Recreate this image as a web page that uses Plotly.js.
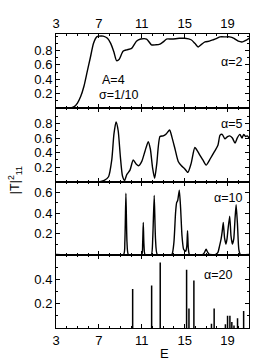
<!DOCTYPE html>
<html>
<head>
<meta charset="utf-8">
<script src="https://cdn.plot.ly/plotly-3.0.1.min.js"></script>
<style>html,body{margin:0;padding:0;background:#fff;}#chart{width:258px;height:364px;}</style>
</head>
<body>
<div id="chart"></div>
<script>
// alpha = 2
const xA2 = [3, 4.3, 4.7, 5.0, 5.3, 5.6, 5.9, 6.2, 6.5, 6.8, 7.0, 7.4, 7.8, 8.1, 8.4, 8.65, 8.9, 9.25, 9.6, 10.05, 10.5, 10.9, 11.45, 11.9, 12.3, 12.7, 13.0, 13.3, 13.8, 14.5, 15.0, 15.6, 15.95, 16.26, 16.6, 16.9, 17.3, 17.67, 18.0, 18.3, 18.8, 19.2, 19.6, 20.0, 20.4, 20.7, 21];
const yA2 = [0, 0, 0.02, 0.07, 0.16, 0.3, 0.5, 0.7, 0.9, 0.99, 1.0, 1.0, 0.97, 0.9, 0.78, 0.66, 0.68, 0.79, 0.81, 0.83, 0.93, 0.96, 0.96, 0.88, 0.88, 0.89, 0.92, 0.96, 0.96, 0.97, 0.97, 0.95, 0.9, 0.85, 0.89, 0.92, 0.93, 0.95, 0.97, 0.99, 0.99, 0.99, 0.97, 0.93, 0.92, 0.94, 0.97];
// alpha = 5
const xA5 = [3, 7.0, 7.5, 7.9, 8.2, 8.4, 8.6, 8.8, 9.0, 9.2, 9.4, 9.6, 9.9, 10.2, 10.5, 10.7, 11.0, 11.3, 11.6, 11.8, 12.0, 12.2, 12.4, 12.7, 13.0, 13.3, 13.6, 13.8, 14.1, 14.4, 14.7, 15.0, 15.3, 15.6, 15.95, 16.2, 16.4, 16.7, 17.0, 17.4, 17.8, 18.1, 18.3, 18.5, 18.75, 19.0, 19.2, 19.45, 19.7, 19.9, 20.15, 20.35, 20.5, 20.7, 20.85, 21];
const yA5 = [0, 0, 0.02, 0.07, 0.3, 0.65, 0.82, 0.7, 0.35, 0.08, 0.02, 0.1, 0.16, 0.3, 0.24, 0.22, 0.28, 0.42, 0.55, 0.45, 0.2, 0.05, 0.25, 0.62, 0.63, 0.66, 0.71, 0.62, 0.45, 0.28, 0.22, 0.18, 0.13, 0.25, 0.47, 0.42, 0.37, 0.3, 0.23, 0.32, 0.42, 0.5, 0.64, 0.65, 0.59, 0.62, 0.63, 0.6, 0.53, 0.6, 0.65, 0.6, 0.65, 0.62, 0.63, 0.6];
// alpha = 10
const xA10 = [3, 9.3, 9.42, 9.52, 9.62, 9.75, 11.0, 11.08, 11.14, 11.2, 11.3, 11.9, 12.02, 12.16, 12.28, 12.45, 13.8, 14.0, 14.15, 14.25, 14.35, 14.5, 14.62, 14.75, 14.9, 15.1, 15.2, 15.27, 15.34, 15.45, 16.7, 16.85, 17.0, 17.15, 17.3, 17.9, 18.1, 18.25, 18.4, 18.5, 18.6, 18.72, 18.85, 18.95, 19.05, 19.2, 19.32, 19.45, 19.58, 19.7, 19.8, 19.92, 20.05, 20.2, 21];
const yA10 = [0, 0, 0.12, 0.59, 0.12, 0, 0, 0.1, 0.31, 0.1, 0, 0, 0.15, 0.57, 0.15, 0, 0, 0.12, 0.4, 0.5, 0.52, 0.62, 0.45, 0.18, 0.05, 0.03, 0.08, 0.23, 0.06, 0, 0, 0.02, 0.05, 0.02, 0, 0, 0.02, 0.08, 0.15, 0.22, 0.31, 0.16, 0.1, 0.15, 0.25, 0.37, 0.18, 0.1, 0.15, 0.35, 0.48, 0.3, 0.05, 0, 0];
// alpha = 20 (spectral lines)
const xA20 = [10.15, 11.92, 12.72, 15.18, 15.4, 15.86, 17.5, 17.75, 18.8, 19.0, 19.22, 19.4, 19.6, 19.93, 20.5];
const yA20 = [0.32, 0.35, 0.54, 0.48, 0.16, 0.39, 0.035, 0.16, 0.03, 0.1, 0.1, 0.05, 0.02, 0.08, 0.14];

const xTicks = [3, 7, 11, 15, 19];
const yTicks1 = [0.2, 0.4, 0.6, 0.8];
const yTicks3 = [0.2, 0.4, 0.6];
const yTicks4 = [0.2, 0.4];

const sx = [], sy = [];
xA20.forEach((v, i) => { sx.push(v, v, null); sy.push(0, yA20[i], null); });

const ln = {color: '#000', width: 1.4};
const traces = [
  {x: xA2, y: yA2, xaxis: 'x', yaxis: 'y', mode: 'lines', line: Object.assign({shape: 'spline', smoothing: 0.6}, ln)},
  {x: xA5, y: yA5, xaxis: 'x2', yaxis: 'y2', mode: 'lines', line: Object.assign({shape: 'spline', smoothing: 0.6}, ln)},
  {x: xA10, y: yA10, xaxis: 'x3', yaxis: 'y3', mode: 'lines', line: Object.assign({shape: 'spline', smoothing: 0.5}, ln)},
  {x: sx, y: sy, xaxis: 'x4', yaxis: 'y4', mode: 'lines', line: {color: '#000', width: 1.5}}
];

const font = {family: 'Liberation Sans, Arial, sans-serif', size: 13, color: '#000'};
function xax(anchor, side, labels) {
  return {anchor: anchor, domain: [0, 1], range: [3, 21], side: side, showticklabels: labels,
    tickmode: 'array', tickvals: xTicks, ticks: 'inside', ticklen: 4, tickcolor: '#000',
    mirror: 'allticks', showline: true, linecolor: '#000', linewidth: 1, showgrid: false, zeroline: false,
    minor: {tickmode: 'linear', tick0: 3, dtick: 1, ticks: 'inside', ticklen: 2, tickcolor: '#000', showgrid: false},
    tickfont: font};
}
function yax(anchor, dom, range, vals) {
  return {anchor: anchor, domain: dom, range: range, tickmode: 'array', tickvals: vals,
    ticktext: vals.map(v => v.toFixed(1)),
    ticks: 'inside', ticklen: 4, tickcolor: '#000', mirror: 'allticks', showline: true,
    linecolor: '#000', linewidth: 1, showgrid: false, zeroline: false,
    minor: {tickmode: 'linear', tick0: 0, dtick: 0.1, ticks: 'inside', ticklen: 2, tickcolor: '#000', showgrid: false},
    tickfont: font};
}

const annFont = {family: 'Liberation Sans, Arial, sans-serif', size: 12.5, color: '#000'};
function ann(text, x, y, extra) {
  return Object.assign({text: text, xref: 'paper', yref: 'paper', x: x, y: y, xanchor: 'center', yanchor: 'middle', showarrow: false, font: annFont}, extra || {});
}
const layout = {
  width: 258, height: 364, showlegend: false,
  margin: {l: 56, r: 9, t: 34, b: 36},
  paper_bgcolor: '#fff', plot_bgcolor: '#fff', font: font,
  xaxis: xax('y', 'top', true),
  xaxis2: xax('y2', 'bottom', false),
  xaxis3: xax('y3', 'bottom', false),
  xaxis4: xax('y4', 'bottom', true),
  yaxis: yax('x', [0.748, 1], [0, 1.03], yTicks1),
  yaxis2: yax('x2', [0.497, 0.748], [0, 1.01], yTicks1),
  yaxis3: yax('x3', [0.25, 0.497], [0, 0.7], yTicks3),
  yaxis4: yax('x4', [0, 0.25], [0, 0.605], yTicks4),
  annotations: [
    ann('α=2', 0.91, 0.905),
    ann('A=4', 0.30, 0.843),
    ann('σ=1/10', 0.326, 0.792),
    ann('α=5', 0.91, 0.694),
    ann('α=10', 0.89, 0.442),
    ann('α=20', 0.838, 0.179),
    ann('|T|<sup>2</sup><sub>11</sub>', -0.212, 0.503, {textangle: -90}),
    ann('E', 0.564, -0.086, {font: font})
  ]
};
Plotly.newPlot('chart', traces, layout, {staticPlot: true, displayModeBar: false});
</script>
</body>
</html>
